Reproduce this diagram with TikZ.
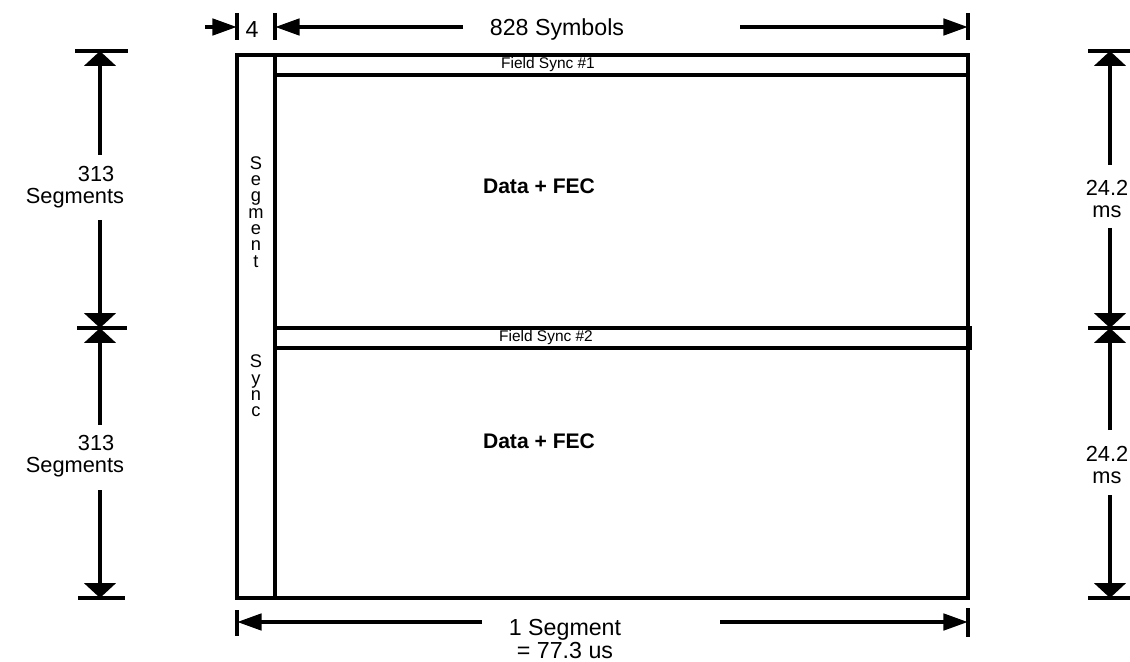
\documentclass[tikz,border=0pt]{standalone}
\usepackage{fontspec}
\setmainfont{Liberation Sans}
\usetikzlibrary{arrows.meta,positioning}
\tikzset{
    frame/.style={line width=3pt},
    tickmark/.style={line width=2.3pt},
    hdim/.style={line width=3pt, -{Triangle[length=17.5pt,width=11.5pt]}},
    vdim/.style={line width=3pt, -{Triangle[length=10.5pt,width=22pt]}},
    toplbl/.style={font=\fontsize{16.5}{15}\selectfont, align=center},
    sidelbl/.style={font=\fontsize{15.5}{15.5}\selectfont, align=center},
    datalbl/.style={font=\fontsize{15}{18}\selectfont\bfseries},
    synclbl/.style={font=\fontsize{11}{13}\selectfont},
    letters/.style={font=\fontsize{13}{11.6}\selectfont, align=center, inner sep=0pt}
}
\begin{document}
\begin{tikzpicture}[x=0.025cm, y=-0.025cm]
    \useasboundingbox (0,0) rectangle (1130,662);
    % Frame
    \draw[frame] (237,55) rectangle (968,598);
    \draw[frame] (275,55) -- (275,598);
    % Field syncs
    \draw[frame] (275,55) rectangle (968,75);
    \draw[frame] (275,328) rectangle (970,348);
    \node[synclbl] (fsone) at (548,65) {Field Sync \#1};
    \node[synclbl] (fstwo) at (546,338) {Field Sync \#2};
    % Data
    \node[datalbl] (dataone) at (539,186) {Data + FEC};
    \node[datalbl] (datatwo) at (539,441) {Data + FEC};
    % Segment sync
    \node[letters] (segword) at (256,212) {S\\e\\g\\m\\e\\n\\t};
    \node[letters] (syncword) at (256,386) {S\\y\\n\\c};
    % Top dimensions
    \coordinate (tka) at (237,27);
    \coordinate (tkb) at (275,27);
    \coordinate (tkc) at (968,27);
    \draw[tickmark] (237,13) -- (237,40);
    \draw[tickmark] (275,13) -- (275,40);
    \draw[tickmark] (968,13) -- (968,40);
    \coordinate (fourstart) at (205,27);
    \node[toplbl] (four) at (252,30) {4};
    \node[toplbl] (symbols) at (557,30) {828 Symbols};
    \coordinate (symleft) at (463,27);
    \coordinate (symright) at (740,27);
    \draw[hdim] (fourstart) -- (tka);
    \draw[hdim] (symleft) -- (tkb);
    \draw[hdim] (symright) -- (tkc);
    % Bottom dimension
    \coordinate (bka) at (237,622);
    \coordinate (bkb) at (968,622);
    \draw[tickmark] (237,610) -- (237,636);
    \draw[tickmark] (968,608) -- (968,637);
    \node[toplbl, font=\fontsize{16.5}{14.5}\selectfont] (oneseg) at (565,639) {1 Segment\\= 77.3 us};
    \coordinate (segleft) at (482,622);
    \coordinate (segright) at (720,622);
    \draw[hdim] (segleft) -- (bka);
    \draw[hdim] (segright) -- (bkb);
    % Left dimensions
    \coordinate (lka) at (100,51);
    \coordinate (lkb) at (100,328);
    \coordinate (lkc) at (100,598);
    \draw[tickmark] (75,51) -- (128,51);
    \draw[tickmark] (77,328) -- (127,328);
    \draw[tickmark] (78,598) -- (125,598);
    \node[sidelbl, align=right] (segsone) at (75,187) {313\hspace*{0.45em}\\Segments};
    \node[sidelbl, align=right] (segstwo) at (75,456) {313\hspace*{0.45em}\\Segments};
    \coordinate (lua) at (100,155);
    \coordinate (lub) at (100,220);
    \coordinate (lla) at (100,425);
    \coordinate (llb) at (100,490);
    \draw[vdim] (lua) -- (lka);
    \draw[vdim] (lub) -- (lkb);
    \draw[vdim] (lla) -- (lkb);
    \draw[vdim] (llb) -- (lkc);
    % Right dimensions
    \coordinate (rka) at (1110,51);
    \coordinate (rkb) at (1110,328);
    \coordinate (rkc) at (1110,598);
    \draw[tickmark] (1088,51) -- (1130,51);
    \draw[tickmark] (1088,328) -- (1130,328);
    \draw[tickmark] (1088,598) -- (1130,598);
    \node[sidelbl] (msone) at (1107,199) {24.2\\ms};
    \node[sidelbl] (mstwo) at (1107,465) {24.2\\ms};
    \coordinate (rua) at (1110,165);
    \coordinate (rub) at (1110,228);
    \coordinate (rla) at (1110,430);
    \coordinate (rlb) at (1110,495);
    \draw[vdim] (rua) -- (rka);
    \draw[vdim] (rub) -- (rkb);
    \draw[vdim] (rla) -- (rkb);
    \draw[vdim] (rlb) -- (rkc);
\end{tikzpicture}
\end{document}
